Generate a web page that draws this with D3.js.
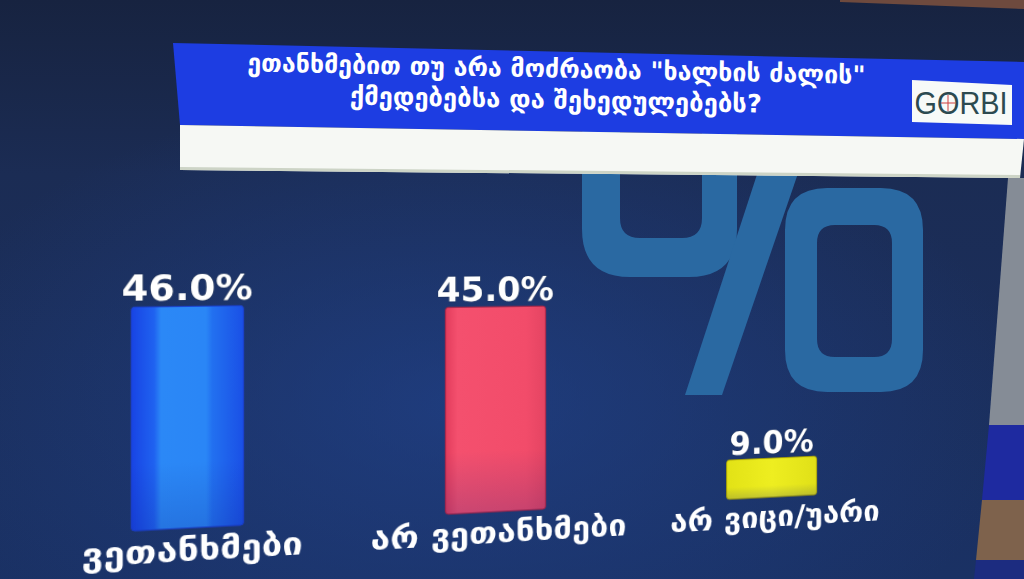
<!DOCTYPE html>
<html><head><meta charset="utf-8">
<script src="https://cdn.jsdelivr.net/npm/d3@7"></script>
<style>
html,body{margin:0;padding:0;background:#1b2c52;overflow:hidden;width:1024px;height:579px}
#bgsvg{position:absolute;left:0;top:0}
#chartwrap{position:absolute;left:0;top:0;width:1024px;height:579px;transform-origin:0 0}
</style>
</head><body>
<svg id="bgsvg" width="1024" height="579"></svg>
<div id="chartwrap"><svg id="chart" width="1024" height="579" style="overflow:visible"></svg></div>
<script>
// ---- data ----
const categories = ["ვეთანხმები", "არ ვეთანხმები", "არ ვიცი/უარი"];
const values = [46.0, 45.0, 9.0];
const valueLabels = ["46.0%", "45.0%", "9.0%"];
const titleLines = ['ეთანხმებით თუ არა მოძრაობა "ხალხის ძალის"', 'ქმედებებსა და შეხედულებებს?'];
const yDomain = [0, 50];
const brand = "GORBI";

const W = 1024, H = 579;
const svg = d3.select("#bgsvg");
const defs = svg.append("defs");

// background
const bg = defs.append("linearGradient").attr("id","bg").attr("x1",0).attr("y1",0).attr("x2",0).attr("y2",1);
[[0,"#172340"],[0.3,"#1b2c54"],[1,"#1a3164"]].forEach(s=>bg.append("stop").attr("offset",s[0]).attr("stop-color",s[1]));
const rg = defs.append("radialGradient").attr("id","glow").attr("cx",0.45).attr("cy",0.7).attr("r",0.55);
rg.append("stop").attr("offset",0).attr("stop-color","#21438e").attr("stop-opacity",0.65);
rg.append("stop").attr("offset",1).attr("stop-color","#21438e").attr("stop-opacity",0);
svg.append("rect").attr("width",W).attr("height",H).attr("fill","url(#bg)");
svg.append("rect").attr("width",W).attr("height",H).attr("fill","url(#glow)");

// scenery outside the screen
svg.append("polygon").attr("points","840,0 1024,0 1024,9 840,2").attr("fill","#6e4a3e");
svg.append("polygon").attr("points","1008,178 1024,178 1024,425 989,425").attr("fill","#858c96");
svg.append("polygon").attr("points","989,425 1024,425 1024,500 982,500").attr("fill","#1e2aa0");
svg.append("polygon").attr("points","982,500 1024,500 1024,560 976,560").attr("fill","#7e624c");
svg.append("polygon").attr("points","976,560 1024,560 1024,579 974,579").attr("fill","#1c2c80");

// big % watermark
const wm = svg.append("g").attr("fill","#2a69a2");
function rrect(x,y,w,h,r){return `M${x+r},${y}H${x+w-r}Q${x+w},${y} ${x+w},${y+r}V${y+h-r}Q${x+w},${y+h} ${x+w-r},${y+h}H${x+r}Q${x},${y+h} ${x},${y+h-r}V${y+r}Q${x},${y} ${x+r},${y}Z`;}
wm.append("path").attr("fill-rule","evenodd").attr("d", rrect(582,90,155,187,48)+rrect(620,110,82,128,20));
wm.append("polygon").attr("points","685,395 722,395 806,150 765,150");
wm.append("path").attr("fill-rule","evenodd").attr("d", rrect(785,188,138,204,42)+rrect(817,225,75,132,18));

// title banner
svg.append("polygon").attr("points","173,43 1024,62 1024,139 180,125").attr("fill","#1d3de2");
svg.append("polygon").attr("points","180,125 1024,139 1020,178 180,170").attr("fill","#f6f8f4");
svg.append("polygon").attr("points","180,167 1020,175 1020,178 180,170").attr("fill","#cdd4c6");
const tg = svg.append("g").attr("transform","rotate(1.15,556,88)");
tg.selectAll("text").data(titleLines).join("text")
  .attr("x",556).attr("y",(d,i)=>69+i*31)
  .attr("text-anchor","middle").attr("dominant-baseline","central")
  .attr("fill","#ffffff").attr("font-family","DejaVu Sans").attr("font-weight","bold")
  .attr("font-size",25)
  .attr("textLength",(d,i)=>i===0?618:412).attr("lengthAdjust","spacingAndGlyphs")
  .text(d=>d);

// GORBI logo
svg.append("polygon").attr("points","912,80 1012,85 1012,125 912,122").attr("fill","#f7faf8");
svg.append("text").attr("x",961).attr("y",114).attr("text-anchor","middle")
  .attr("font-family","Liberation Sans").attr("font-size",31).attr("fill","#2c4a50")
  .attr("textLength",93).attr("lengthAdjust","spacingAndGlyphs").text(brand);
svg.append("line").attr("x1",941).attr("x2",955).attr("y1",103).attr("y2",103).attr("stroke","#d04040").attr("stroke-width",1);
svg.append("line").attr("x1",948).attr("x2",948).attr("y1",95).attr("y2",111).attr("stroke","#d04040").attr("stroke-width",1);

// ---------- chart (flat), then put in perspective like the photo ----------
const cs = d3.select("#chart");
const cdefs = cs.append("defs");
function hGrad(id, stops){
  const g = cdefs.append("linearGradient").attr("id",id).attr("x1",0).attr("y1",0).attr("x2",1).attr("y2",0);
  stops.forEach(s=>g.append("stop").attr("offset",s[0]).attr("stop-color",s[1]));
}
hGrad("gBlue",[[0,"#1844e4"],[0.2,"#1f62f0"],[0.26,"#2b88f6"],[0.66,"#2a86f6"],[0.72,"#2270f0"],[1,"#1a50e6"]]);
hGrad("gRed",[[0,"#e23c5c"],[0.12,"#f4506e"],[0.8,"#f24c6a"],[1,"#e44462"]]);
hGrad("gYel",[[0,"#e2e216"],[0.5,"#eeee20"],[1,"#e0e018"]]);
const barFills = ["url(#gBlue)","url(#gRed)","url(#gYel)"];
const barStrokes = ["#1a3fd0","#a82040","#a8a000"];
const shade = cdefs.append("linearGradient").attr("id","shade").attr("x1",0).attr("y1",0).attr("x2",0).attr("y2",1);
shade.append("stop").attr("offset",0.7).attr("stop-color","#0a1a80").attr("stop-opacity",0);
shade.append("stop").attr("offset",1).attr("stop-color","#0a1a80").attr("stop-opacity",0.18);

const base = 528;
const x = d3.scaleBand().domain(categories).range([33, 963]).paddingInner(0.656).paddingOuter(0.328);
const y = d3.scaleLinear().domain(yDomain).range([base, base - 240.9]);

cs.selectAll("rect.bar").data(values).join("rect").attr("class","bar")
  .attr("x",(d,i)=>x(categories[i])).attr("width",x.bandwidth())
  .attr("y",d=>y(d)).attr("height",d=>y(0)-y(d))
  .attr("rx",3).attr("fill",(d,i)=>barFills[i])
  .attr("stroke",(d,i)=>barStrokes[i]).attr("stroke-width",1);
cs.selectAll("rect.shade").data(values).join("rect").attr("class","shade")
  .attr("x",(d,i)=>x(categories[i])).attr("width",x.bandwidth())
  .attr("y",d=>y(d)).attr("height",d=>y(0)-y(d)).attr("rx",3).attr("fill","url(#shade)");

cs.selectAll("text.val").data(values).join("text").attr("class","val")
  .attr("x",(d,i)=>x(categories[i])+x.bandwidth()/2).attr("y",d=>y(d)-6)
  .attr("text-anchor","middle").attr("fill","#ffffff")
  .attr("stroke","#1a2a40").attr("stroke-width",0.6).attr("paint-order","stroke")
  .attr("font-family","DejaVu Sans").attr("font-weight","bold").attr("font-size",36)
  .text((d,i)=>valueLabels[i]);

const cats = cs.selectAll("text.cat").data(categories).join("text").attr("class","cat")
  .attr("x",d=>x(d)+x.bandwidth()/2+6).attr("y",base+22)
  .attr("text-anchor","middle").attr("dominant-baseline","central")
  .attr("fill","#ffffff").attr("font-family","DejaVu Sans").attr("font-weight","bold")
  .attr("font-size",32)
  .text(d=>d);
cats.each(function(){ const L=this.getComputedTextLength(); d3.select(this).attr("textLength",L*1.12).attr("lengthAdjust","spacingAndGlyphs"); });

// homography: flat chart -> photographed screen
function homography(src, dst){
  const A=[], b=[];
  for(let i=0;i<4;i++){
    const [xs,ys]=src[i],[u,v]=dst[i];
    A.push([xs,ys,1,0,0,0,-xs*u,-ys*u]); b.push(u);
    A.push([0,0,0,xs,ys,1,-xs*v,-ys*v]); b.push(v);
  }
  const n=8;
  for(let c=0;c<n;c++){
    let p=c; for(let r=c+1;r<n;r++) if(Math.abs(A[r][c])>Math.abs(A[p][c])) p=r;
    [A[c],A[p]]=[A[p],A[c]]; [b[c],b[p]]=[b[p],b[c]];
    for(let r=0;r<n;r++){ if(r===c) continue; const f=A[r][c]/A[c][c];
      for(let k=c;k<n;k++) A[r][k]-=f*A[c][k]; b[r]-=f*b[c]; }
  }
  return b.map((v,i)=>v/A[i][i]);
}
const cx0 = x(categories[0])+x.bandwidth()/2, cx2 = x(categories[2])+x.bandwidth()/2;
const yTop = y(yDomain[1]);
const h = homography(
  [[cx0,base],[cx2,base],[cx0,yTop],[cx2,yTop]],
  [[188,528],[772,497],[188,287.1],[772,281.1]]);
document.getElementById("chartwrap").style.transform =
  `matrix3d(${h[0]},${h[3]},0,${h[6]},${h[1]},${h[4]},0,${h[7]},0,0,1,0,${h[2]},${h[5]},0,1)`;
</script></body></html>
